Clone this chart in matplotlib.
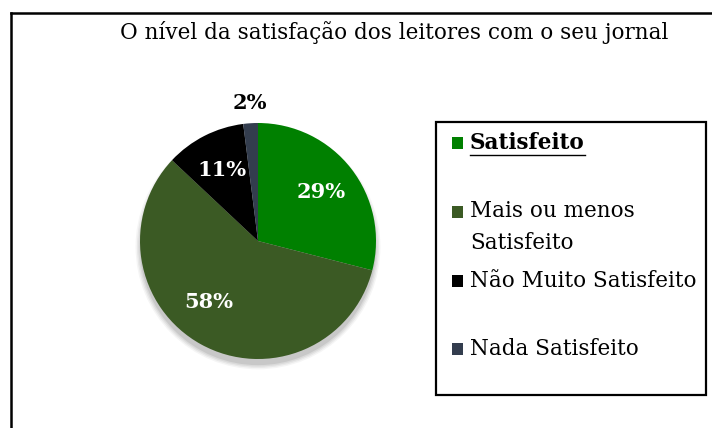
import matplotlib
matplotlib.use("Agg")
import matplotlib.pyplot as plt
from matplotlib.patches import Rectangle, Circle
from matplotlib.lines import Line2D

title = "O nível da satisfação dos leitores com o seu jornal"
categories = ["Satisfeito", "Mais ou menos\nSatisfeito", "Não Muito Satisfeito", "Nada Satisfeito"]
values = [29, 58, 11, 2]
colors = ["#008000", "#3B5A24", "#000000", "#333D4E"]

W, H = 712, 428
fig = plt.figure(figsize=(W / 100, H / 100), dpi=100)
fig.patch.set_facecolor("white")
FONT = "DejaVu Serif"

def fx(x):
    return x / W

def fy(y):
    return 1 - y / H

# outer frame (left and top edges)
fig.add_artist(Line2D([fx(11), fx(11)], [fy(13), fy(428)], color="black", lw=1.8))
fig.add_artist(Line2D([fx(11), fx(712)], [fy(13), fy(13)], color="black", lw=1.8))

fig.text(fx(394), fy(33), title, ha="center", va="center", fontsize=15.5,
         family=FONT, color="black")

# pie axes: center (258,242), radius 118 px
cx, cy, R = 258, 241, 118
half = 140
ax = fig.add_axes([fx(cx - half), fy(cy + half), 2 * half / W, 2 * half / H])
lim = half / R
ax.set_xlim(-lim, lim)
ax.set_ylim(-lim, lim)
ax.set_aspect("equal")
ax.axis("off")

# soft shadow (mostly below the pie)
for i, a in enumerate([0.04, 0.05, 0.06, 0.08]):
    ax.add_patch(Circle((0.0, -0.05), 0.99 + 0.012 * (4 - i), color="black",
                        alpha=a, lw=0, zorder=0))

wedges, texts, autotexts = ax.pie(
    values, colors=colors, startangle=90, counterclock=False, radius=1.0,
    autopct=lambda p: f"{p:.0f}%", pctdistance=0.68,
    textprops=dict(color="white", fontsize=15, fontweight="bold", family=FONT),
    wedgeprops=dict(linewidth=0),
)
for w in wedges:
    w.set_zorder(2)
ax.set_xlim(-lim, lim)
ax.set_ylim(-lim, lim)
# small slice label outside
autotexts[3].set_position((-0.07, 1.17))
autotexts[3].set_color("black")
autotexts[1].set_position((-0.42, -0.52))

# legend box
fig.add_artist(Rectangle((fx(436), fy(395)), fx(706) - fx(436), fy(122) - fy(395),
                         fill=False, edgecolor="black", lw=1.6))
ys = [143, 227, 281, 349]
sq_y = [143, 212, 281, 349]
for lab, col, yc, sy in zip(categories, colors, ys, sq_y):
    fig.add_artist(Rectangle((fx(452), fy(sy + 6)), fx(463) - fx(452), fy(sy - 6) - fy(sy + 6),
                             facecolor=col, edgecolor="none"))
    first = lab == categories[0]
    fig.text(fx(470), fy(yc), lab, ha="left", va="center", fontsize=15.5,
             family=FONT, color="black", fontweight="bold" if first else "normal",
             linespacing=1.55)
fig.add_artist(Line2D([fx(470), fx(585)], [fy(155), fy(155)], color="black", lw=1.0))

fig.savefig("out.png", dpi=100)
